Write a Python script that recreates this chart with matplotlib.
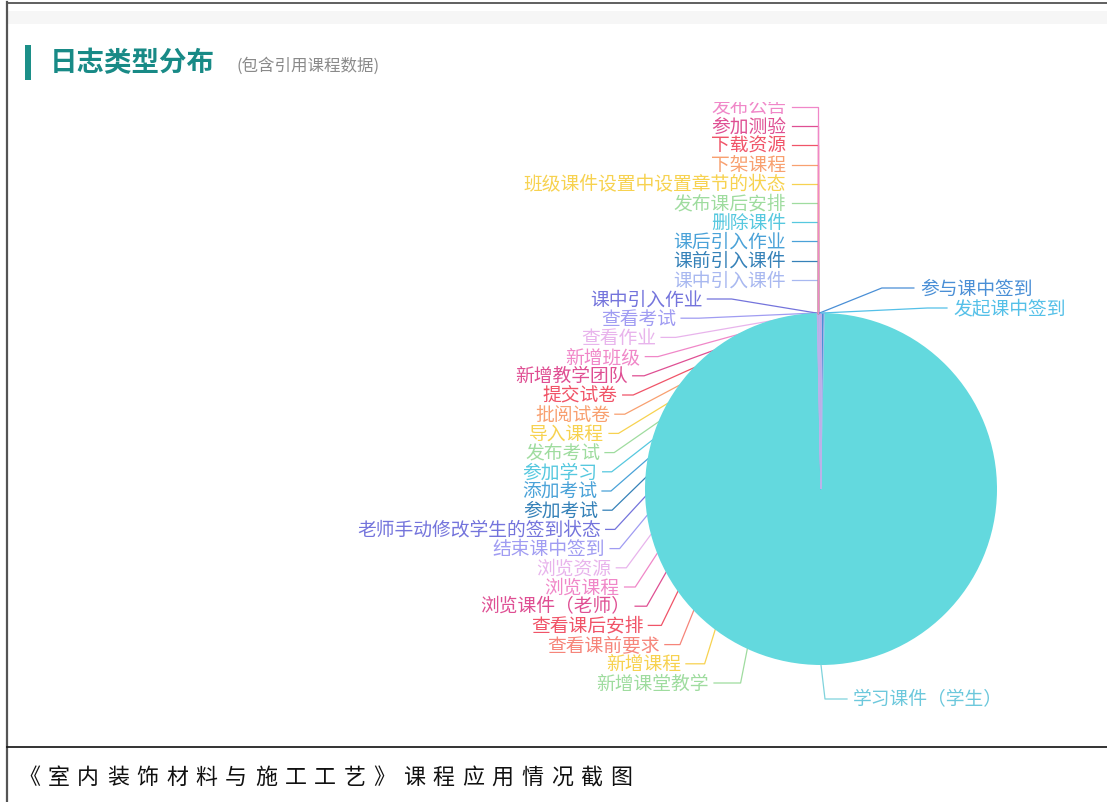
import numpy as np
import matplotlib.pyplot as plt
from matplotlib.patches import Rectangle
from matplotlib.transforms import Bbox

plt.rcParams['font.family'] = ['Noto Sans CJK SC', 'DejaVu Sans']

# 日志类型（饼图顺时针顺序，从正上方开始）
labels = ['参与课中签到', '发起课中签到', '学习课件（学生）', '新增课堂教学', '新增课程',
          '查看课前要求', '查看课后安排', '浏览课件（老师）', '浏览课程', '浏览资源',
          '结束课中签到', '老师手动修改学生的签到状态', '参加考试', '添加考试', '参加学习',
          '发布考试', '导入课程', '批阅试卷', '提交试卷', '新增教学团队', '新增班级',
          '查看作业', '查看考试', '课中引入作业', '课中引入课件', '课前引入课件',
          '课后引入作业', '删除课件', '发布课后安排', '班级课件设置中设置章节的状态',
          '下架课程', '下载资源', '参加测验', '发布公告']
counts = [150, 26, 52000, 8, 3, 6, 5, 12, 9, 7, 10, 4, 15, 3, 20, 3, 2, 4, 14, 1, 2,
          6, 5, 2, 3, 4, 2, 2, 3, 2, 1, 6, 8, 4]

colors = ['#4a8fd6', '#54c0e8', '#63d9de', '#9fdc9f', '#f7d250', '#f6857a', '#f05468',
          '#df4f93', '#f087c8', '#e8b4ec', '#a09cf2', '#7474dc', '#3581b8', '#4aa2d8',
          '#56c8df', '#9fdc9f', '#f7d250', '#f8a070', '#f05468', '#df4f93', '#f087c8',
          '#e8b4ec', '#a09cf2', '#7474dc', '#a8b8f0', '#3581b8', '#4aa2d8', '#56c8df',
          '#9fdc9f', '#f7d250', '#f8a070', '#f05468', '#df4f93', '#f087c8']

title = '日志类型分布'
subtitle = '(包含引用课程数据)'
caption = '《室内装饰材料与施工工艺》课程应用情况截图'

W, H = 1107, 803
fig = plt.figure(figsize=(W / 100, H / 100), dpi=100)
ax = fig.add_axes([0, 0, 1, 1])

# 饼图（y轴向下，所以 startangle=270 即正上方）
cx, cy, r = 821, 490, 176
wedges, _ = ax.pie(counts, colors=colors, center=(cx, cy), radius=r,
                   startangle=270, counterclock=True,
                   wedgeprops=dict(linewidth=0))
big = int(np.argmax(counts))
for i, w in enumerate(wedges):
    w.set_zorder(2)
    if i != big:
        w.set_edgecolor((0.74, 0.70, 0.92, 0.5))
        w.set_linewidth(0.9)

ax.set_xlim(0, W)
ax.set_ylim(H, 0)
ax.axis('off')

# 图表区域（像素坐标，y向上）
clipbox = Bbox.from_extents(7, H - 745, W, H - 103)

fs = 18.8 * 0.72
R1, R2 = 210, 224
left_idx = [i for i in range(len(labels)) if i >= 3]
right_idx = [0, 1]

def edge_point(w):
    a = np.deg2rad((w.theta1 + w.theta2) / 2)
    return cx + r * np.cos(a), cy + r * np.sin(a)

# 左侧标签
for k, i in enumerate(left_idx):
    y = 684 - 19.2 * k
    dy = y - cy
    sx, sy = edge_point(wedges[i])
    if abs(dy) < 200:
        xr = cx - np.sqrt(R2 ** 2 - dy ** 2)
        bx = cx - np.sqrt(R1 ** 2 - dy ** 2)
        pts = [(xr + 5, y), (bx, y), (sx - 4, sy)]
        z = 1
    else:
        xr = cx - 35
        pts = [(xr + 6, y), (cx - 8, y), (cx - 3, y), (cx - 3, sy)]
        z = 3
    xs, ys = zip(*pts)
    ln, = ax.plot(xs, ys, color=colors[i], lw=0.9, zorder=z)
    ln.set_clip_box(clipbox)
    t = ax.text(xr, y, labels[i], color=colors[i], fontsize=fs,
                ha='right', va='center', zorder=4)
    t.set_clip_on(True)
    t.set_clip_box(clipbox)

# 右侧标签
for k, i in enumerate(right_idx):
    y = 289 + 20 * k
    dy = y - cy
    sx, sy = edge_point(wedges[i])
    xl = cx + np.sqrt(R2 ** 2 - dy ** 2)
    bx = cx + np.sqrt(R1 ** 2 - dy ** 2)
    ax.plot([sx - 3, bx, xl - 6], [sy, y, y], color=colors[i], lw=0.9, zorder=3)
    ax.text(xl, y, labels[i], color=colors[i], fontsize=fs,
            ha='left', va='center', zorder=4)

# 最大扇区标签
sx, sy = edge_point(wedges[big])
ax.plot([sx, sx + 4, sx + 26], [sy, sy + 34, sy + 34], color='#7fd3dc', lw=0.9, zorder=3)
ax.text(sx + 32, sy + 34, labels[big], color='#6cc8dc', fontsize=fs,
        ha='left', va='center', zorder=4)

# 标题
ax.add_patch(Rectangle((8, 12), W, 13, color='#f6f6f6', lw=0, zorder=0))
ax.add_patch(Rectangle((25, 46), 6, 35, color='#1c8f88', lw=0, zorder=3))
ax.text(50, 63, title, color='#188a86', fontsize=27.5 * 0.72, fontweight='bold',
        ha='left', va='center')
ax.text(236, 66, subtitle, color='#8a8a8a', fontsize=16.5 * 0.72,
        ha='left', va='center')

# 边框
ax.plot([7, W], [3.5, 3.5], color='#444444', lw=1.2, zorder=5)
ax.plot([7, 7], [3, H], color='#555555', lw=1.6, zorder=5)
ax.plot([7, W], [748, 748], color='#111111', lw=1.2, zorder=5)

# 图注
for k, ch in enumerate(caption):
    ax.text(18 + 29.6 * k, 778, ch, color='#111111', fontsize=22 * 0.72,
            ha='left', va='center')

fig.savefig('out.png', dpi=100)
